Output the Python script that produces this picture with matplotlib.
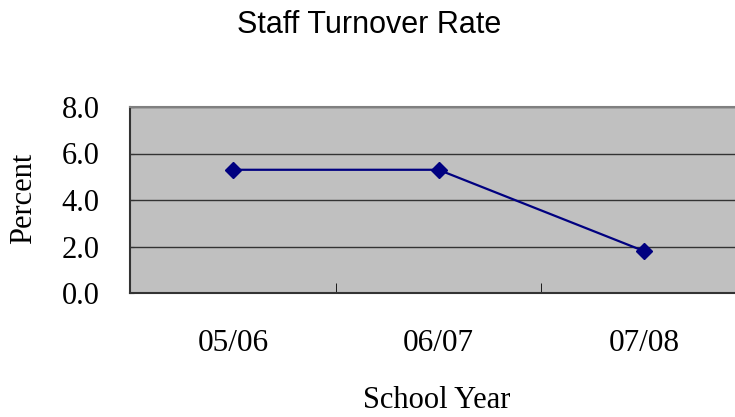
import matplotlib
matplotlib.use('Agg')
import matplotlib.pyplot as plt

years = ['05/06', '06/07', '07/08']
turnover = [5.3, 5.3, 1.8]

yticks = [0.0, 2.0, 4.0, 6.0, 8.0]

fig = plt.figure(figsize=(7.35, 4.17), dpi=100)
W, H = 735, 417
# plot area runs past the right edge like the original
ax = fig.add_axes([130 / W, (H - 293) / H, (747 - 130) / W, (293 - 107) / H])
ax.set_facecolor('#C0C0C0')

x = list(range(len(years)))
ax.plot(x, turnover, color='#000080', lw=1.6, marker='D', markersize=8,
        markerfacecolor='#000080', markeredgecolor='#000080', zorder=3)

ax.set_xlim(-0.5, len(years) - 0.5)
ax.set_ylim(0, 8)
ax.set_yticks(yticks)
ax.set_yticklabels(['%.1f' % v for v in yticks], family='Liberation Serif', fontsize=22)
ax.set_xticks(x)
ax.set_xticklabels(years, family='Liberation Serif', fontsize=22.5)
ax.set_xticks([0.5, 1.5], minor=True)

ax.yaxis.grid(True, color='#333333', lw=1)
ax.set_axisbelow(True)
ax.tick_params(axis='y', direction='in', length=3, color='#333333', pad=22)
ax.tick_params(axis='x', which='major', length=0, pad=26)
ax.tick_params(axis='x', which='minor', direction='in', length=7, color='black')

for s in ['left', 'bottom']:
    ax.spines[s].set_color('#333333')
    ax.spines[s].set_linewidth(1.5)
ax.spines['top'].set_color('#808080')
ax.spines['top'].set_linewidth(1.5)
ax.spines['right'].set_visible(False)

fig.text(369 / W, 1 - 25 / H, 'Staff Turnover Rate', family='Liberation Sans',
         fontsize=22, ha='center', va='center')
fig.text(437 / W, 1 - 400 / H, 'School Year', family='Liberation Serif',
         fontsize=22, ha='center', va='center')
fig.text(24 / W, 1 - 198 / H, 'Percent', family='Liberation Serif',
         fontsize=22, ha='center', va='center', rotation=90)

fig.savefig('out.png', dpi=100)
